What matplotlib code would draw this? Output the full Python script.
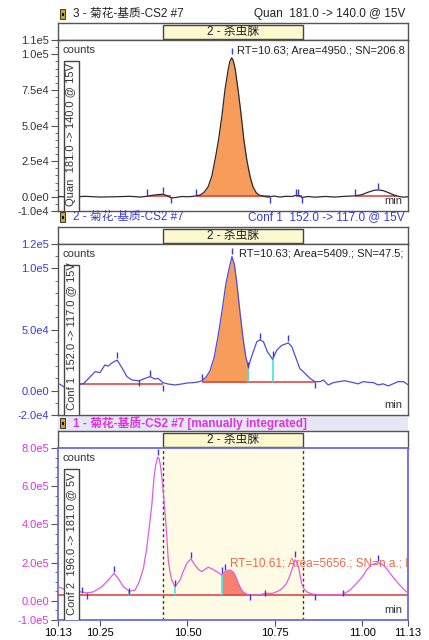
import numpy as np
import matplotlib
matplotlib.use('Agg')
import matplotlib.pyplot as plt
from matplotlib.patches import Rectangle
from matplotlib.ticker import MultipleLocator

plt.rcParams['font.family'] = ['Liberation Sans', 'Noto Sans CJK SC', 'DejaVu Sans']
plt.rcParams['font.size'] = 8

W, H = 429, 640

# ---- data: retention time (min) and intensity in thousands of counts ----

# panel 1 : Quan 181.0 -> 140.0
quan_t = [10.130, 10.164, 10.207, 10.250, 10.293, 10.336, 10.364, 10.384, 10.399, 10.416,
          10.430, 10.441, 10.453, 10.467, 10.484, 10.501, 10.516, 10.524, 10.536, 10.547,
          10.559, 10.570, 10.581, 10.590, 10.599, 10.607, 10.616, 10.621, 10.626, 10.630,
          10.636, 10.644, 10.653, 10.661, 10.670, 10.679, 10.687, 10.696, 10.704, 10.716,
          10.730, 10.747, 10.764, 10.781, 10.799, 10.810, 10.819, 10.827, 10.844, 10.864,
          10.893, 10.921, 10.950, 10.979, 10.999, 11.016, 11.033, 11.044, 11.059, 11.073,
          11.087, 11.101, 11.116, 11.130]
quan_k = [0.2, -0.3, 0.3, -0.2, 0.0, 0.3, -0.2, 0.3, 1.0, 1.5,
          1.8, 0.8, -0.8, -0.5, 0.2, 0.0, 0.3, 0.6, 1.2, 3.0,
          7, 15, 29, 42, 58, 75, 89, 95, 97.5, 96,
          90, 76, 58, 40, 25, 14, 7, 3, 1.2, 0.4,
          -0.3, 0.5, -0.2, 0.3, 0.2, 1.0, 0.8, -0.5, 0.2, -0.3,
          0.2, -0.2, 0.3, 0.6, 1.5, 3.2, 4.5, 4.8, 4.3, 3.0,
          1.5, 0.4, -0.3, 0.0]
quan_mark_t = [10.384, 10.430, 10.453, 10.524, 10.626, 10.736, 10.810, 10.816, 10.827, 10.979, 11.044]
quan_mark_k = [3, 4.7, -2.5, 3, 102, -2.5, 3.5, 3.5, -2.5, 3, 7.8]
quan_base_t0 = [10.384, 10.524, 10.810, 10.979]
quan_base_t1 = [10.453, 10.736, 10.827, 11.099]
quan_base_k = [0.3, 0.3, 0.3, 0.3]
quan_fill = (10.524, 10.704)
quan_yticks = [-1e4, 0, 2.5e4, 5e4, 7.5e4, 1e5, 1.1e5]
quan_ylabels = ['-1.0e4', '0.0e0', '2.5e4', '5.0e4', '7.5e4', '1.0e5', '1.1e5']

# panel 2 : Conf 1 152.0 -> 117.0
conf1_t = [10.130, 10.139, 10.147, 10.164, 10.187, 10.204, 10.221, 10.236, 10.250, 10.264,
           10.273, 10.284, 10.299, 10.313, 10.327, 10.341, 10.361, 10.379, 10.393, 10.407,
           10.416, 10.430, 10.444, 10.464, 10.484, 10.499, 10.516, 10.530, 10.541, 10.553,
           10.564, 10.576, 10.587, 10.599, 10.610, 10.619, 10.627, 10.634, 10.641, 10.650,
           10.659, 10.667, 10.674, 10.683, 10.698, 10.707, 10.717, 10.728, 10.743, 10.755,
           10.769, 10.788, 10.798, 10.812, 10.821, 10.836, 10.850, 10.864, 10.879, 10.888,
           10.902, 10.917, 10.936, 10.950, 10.974, 10.987, 11.002, 11.016, 11.031, 11.045,
           11.059, 11.074, 11.087, 11.102, 11.117, 11.130]
conf1_k = [6.0, 4.5, 3.0, 3.5, 4.5, 6.0, 11, 15.5, 14.7, 21,
           20, 22.6, 25, 18.5, 11.4, 8.7, 8.0, 10, 11.4, 9.5,
           10, 6.5, 5.4, 4.6, 5.4, 6.2, 6.5, 7.0, 8.0, 11,
           16, 27, 44, 66, 88, 100, 109.7, 103, 88, 64,
           42, 27, 19.6, 27.8, 40, 41.5, 40, 32, 25.6, 33,
           37, 39, 36, 25, 18, 14, 10, 7.3, 7.3, 8.7,
           4.6, 6.5, 7.5, 8, 6.5, 5.5, 7.3, 6.8, 6.5, 4.6,
           5.5, 3.8, 5.5, 7.3, 7.3, 4.8]
conf1_mark_t = [10.187, 10.299, 10.361, 10.393, 10.430, 10.541, 10.627, 10.674, 10.707, 10.743, 10.788, 10.864]
conf1_mark_k = [8.7, 29, 6.5, 14.7, 2, 11, 114, 21, 45, 30, 43, 4.5]
conf1_base_t0 = [10.187, 10.541]
conf1_base_t1 = [10.430, 10.864]
conf1_base_k = [5.2, 6.8]
conf1_cyan_t = [10.674, 10.743]
conf1_cyan_k = [19.6, 25.6]
conf1_fill = (10.541, 10.674)
conf1_yticks = [-2e4, 0, 5e4, 1e5, 1.2e5]
conf1_ylabels = ['-2.0e4', '0.0e0', '5.0e4', '1.0e5', '1.2e5']

# panel 3 : Conf 2 196.0 -> 181.0 (manually integrated)
conf2_t = [10.130, 10.139, 10.150, 10.170, 10.187, 10.198, 10.212, 10.231, 10.255, 10.274,
           10.290, 10.302, 10.317, 10.334, 10.350, 10.362, 10.374, 10.383, 10.391, 10.398,
           10.404, 10.409, 10.415, 10.419, 10.423, 10.427, 10.431, 10.439, 10.445, 10.450,
           10.455, 10.464, 10.479, 10.487, 10.498, 10.510, 10.521, 10.531, 10.541, 10.550,
           10.559, 10.570, 10.579, 10.589, 10.598, 10.607, 10.621, 10.630, 10.636, 10.645,
           10.653, 10.659, 10.669, 10.679, 10.698, 10.707, 10.721, 10.745, 10.764, 10.774,
           10.783, 10.791, 10.798, 10.807, 10.813, 10.817, 10.826, 10.833, 10.841, 10.853,
           10.864, 10.888, 10.926, 10.945, 10.964, 10.983, 10.999, 11.012, 11.024, 11.043,
           11.059, 11.069, 11.079, 11.090, 11.102, 11.114, 11.126, 11.130]
conf2_k = [74, 68, 60, 52, 48, 47, 42, 47, 74, 109,
           144, 118, 74, 51, 56, 100, 170, 270, 390, 500,
           640, 710, 753, 745, 705, 640, 565, 390, 214, 150,
           109, 74, 109, 150, 197, 219, 188, 165, 153, 165,
           176, 168, 158, 147, 135, 153, 162, 152, 135, 92,
           62, 47, 36, 30, 30, 32, 39, 40, 56, 72,
           92, 125, 162, 215, 200, 179, 92, 62, 47, 38,
           34, 30, 30, 35, 56, 92, 125, 162, 188, 200,
           188, 168, 144, 118, 92, 68, 47, 44]
conf2_mark_t = [10.198, 10.212, 10.290, 10.334, 10.415, 10.464, 10.510, 10.598, 10.607, 10.679, 10.721, 10.807, 10.864, 10.945, 11.043]
conf2_mark_k = [55, 25, 165, 50, 780, 91, 238, 160, 175, 20, 43, 244, 20, 43, 227]
conf2_base_t0 = [10.130]
conf2_base_t1 = [11.130]
conf2_base_k = [30]
conf2_cyan_t = [10.334, 10.464, 10.598]
conf2_cyan_k = [51, 74, 135]
conf2_fill = (10.598, 10.679)
conf2_window = (10.43, 10.83)
conf2_yticks = [-1e5, 0, 2e5, 4e5, 6e5, 8e5]
conf2_ylabels = ['-1.0e5', '0.0e0', '2.0e5', '4.0e5', '6.0e5', '8.0e5']

xticks = [10.13, 10.25, 10.50, 10.75, 11.00, 11.13]
xlabels = ['10.13', '10.25', '10.50', '10.75', '11.00', '11.13']
compound = '2 - 杀虫脒'
x0, x1 = 10.13, 11.13


def frac(l, t, r, b):
    return [l / W, 1 - b / H, (r - l) / W, (b - t) / H]


def title_row(y, left, right, color, bold=False):
    # little sample icon
    fig.add_artist(Rectangle((60 / W, 1 - (y + 5) / H), 5 / W, 10 / H, transform=fig.transFigure,
                             fc='#caa52a', ec='#222', lw=0.6))
    fig.add_artist(Rectangle((61.5 / W, 1 - (y + 1.5) / H), 2 / W, 3 / H, transform=fig.transFigure,
                             fc='#111', ec='none'))
    fig.text(73 / W, 1 - y / H, left, ha='left', va='center', fontsize=8.5, color=color,
             fontweight='bold' if bold else 'normal')
    if right:
        fig.text(405 / W, 1 - y / H, right, ha='right', va='center', fontsize=8.5, color=color)


def make_axes(y_box, y_head, y_bot, spine_color):
    hax = fig.add_axes(frac(58, y_box, 408, y_head))
    hax.set_xlim(x0, x1)
    hax.set_ylim(0, 1)
    hax.set_xticks([])
    hax.set_yticks([])
    for s in hax.spines.values():
        s.set_color('#555')
        s.set_linewidth(1)
    hax.add_patch(Rectangle((10.43, 0.05), 0.40, 0.85, fc='#fcf8cf', ec='#444', lw=1))
    hax.text(10.63, 0.48, compound, ha='center', va='center', fontsize=8.5, color='#222')

    ax = fig.add_axes(frac(58, y_head, 408, y_bot))
    ax.set_xlim(x0, x1)
    for s in ax.spines.values():
        s.set_color(spine_color)
        s.set_linewidth(1.3 if spine_color != '#555' else 1)
    return ax


def decorate(ax, side_label, ticks, labels, minor, label_color):
    ax.set_yticks(ticks)
    ax.set_yticklabels(labels)
    ax.yaxis.set_minor_locator(MultipleLocator(minor))
    ax.set_ylim(ticks[0], ticks[-1])
    ax.tick_params(axis='y', which='major', direction='out', length=5, pad=1.5,
                   color='#555', labelcolor=label_color, labelsize=8)
    ax.tick_params(axis='y', which='minor', direction='out', length=2.5, color='#555')
    ax.text(0.014, 0.94, 'counts', transform=ax.transAxes, ha='left', va='center', color='#333')
    ax.text(0.983, 0.06, 'min', transform=ax.transAxes, ha='right', va='center', color='#333')
    ax.add_patch(Rectangle((6 / 350, -0.1), 15 / 350, 0.977, transform=ax.transAxes,
                           fc='white', ec='#444', lw=1, zorder=5))
    ax.text(13.5 / 350, 0.03, side_label, transform=ax.transAxes, rotation=90,
            ha='center', va='bottom', color='#333', zorder=6)


def plot_trace(ax, t, k, line_color, fill_rng, fill_color, base_t0, base_t1, base_k,
               mark_t, mark_k, cyan_t=None, cyan_k=None, fill_base=0.0):
    t = np.array(t)
    y = np.array(k) * 1e3
    m = (t >= fill_rng[0]) & (t <= fill_rng[1])
    ax.fill_between(t[m], y[m], fill_base * 1e3, color=fill_color, lw=0, zorder=2)
    ax.hlines(np.array(base_k) * 1e3, base_t0, base_t1, color='#e04848', lw=1.2, zorder=3)
    if cyan_t:
        ax.vlines(cyan_t, fill_base * 1e3, np.array(cyan_k) * 1e3, color='#3fe6e6', lw=1.2, zorder=3)
    ax.plot(t, y, color=line_color, lw=0.9, zorder=4)
    ax.plot(mark_t, np.array(mark_k) * 1e3, ls='none', marker='|', ms=5, mew=1,
            color='#3b3bd4', zorder=4)


fig = plt.figure(figsize=(W / 100, H / 100), dpi=100)

# ---- panel 1 ----
title_row(14, '3 - 菊花-基质-CS2 #7', 'Quan  181.0 -> 140.0 @ 15V', '#222')
ax1 = make_axes(23, 40, 211, '#555')
plot_trace(ax1, quan_t, quan_k, '#2a2a2a', quan_fill, '#f89c5c',
           quan_base_t0, quan_base_t1, quan_base_k, quan_mark_t, quan_mark_k, fill_base=0.3)
decorate(ax1, 'Quan  181.0 -> 140.0 @ 15V', quan_yticks, quan_ylabels, 5e3, '#333')
ax1.text(0.511, 0.94, 'RT=10.63; Area=4950.; SN=206.8', transform=ax1.transAxes,
         ha='left', va='center', color='#222', zorder=1)
ax1.tick_params(axis='x', bottom=False, labelbottom=False)

# ---- panel 2 ----
title_row(217, '2 - 菊花-基质-CS2 #7', 'Conf 1  152.0 -> 117.0 @ 15V', '#3a3ad6')
ax2 = make_axes(227, 244, 415, '#555')
plot_trace(ax2, conf1_t, conf1_k, '#4d4ddb', conf1_fill, '#f89c5c',
           conf1_base_t0, conf1_base_t1, conf1_base_k, conf1_mark_t, conf1_mark_k,
           conf1_cyan_t, conf1_cyan_k, fill_base=6.8)
decorate(ax2, 'Conf 1  152.0 -> 117.0 @ 15V', conf1_yticks, conf1_ylabels, 1e4, '#3a3ad6')
ax2.text(0.517, 0.947, 'RT=10.63; Area=5409.; SN=47.5;', transform=ax2.transAxes,
         ha='left', va='center', color='#222', zorder=1)
ax2.tick_params(axis='x', bottom=False, labelbottom=False)

# ---- panel 3 ----
fig.add_artist(Rectangle((58 / W, 1 - 431 / H), 350 / W, 16 / H, transform=fig.transFigure,
                         fc='#e6e6f4', ec='none', zorder=0))
title_row(423, '1 - 菊花-基质-CS2 #7 [manually integrated]', None, '#e033e0', bold=True)
ax3 = make_axes(431, 448, 620, '#6a6ae6')
ax3.axvspan(conf2_window[0], conf2_window[1], color='#fffbe4', zorder=0)
for xv in conf2_window:
    ax3.axvline(xv, color='#333', lw=1, ls=(0, (2, 2)), zorder=1)
plot_trace(ax3, conf2_t, conf2_k, '#e35be3', conf2_fill, '#f7806e',
           conf2_base_t0, conf2_base_t1, conf2_base_k, conf2_mark_t, conf2_mark_k,
           conf2_cyan_t, conf2_cyan_k, fill_base=30)
decorate(ax3, 'Conf 2  196.0 -> 181.0 @ 5V', conf2_yticks, conf2_ylabels, 5e4, '#e033e0')
ax3.yaxis.set_minor_locator(MultipleLocator(5e4))
ax3.text(0.491, 0.331, 'RT=10.61; Area=5656.; SN=n.a.; IF', transform=ax3.transAxes,
         ha='left', va='center', color='#f0664a', fontsize=8.5, zorder=1, clip_on=True)
ax3.set_xticks(xticks)
ax3.set_xticklabels(xlabels)
ax3.tick_params(axis='x', direction='out', length=4, pad=2, color='#555', labelsize=8)

fig.savefig('out.png', dpi=100)
